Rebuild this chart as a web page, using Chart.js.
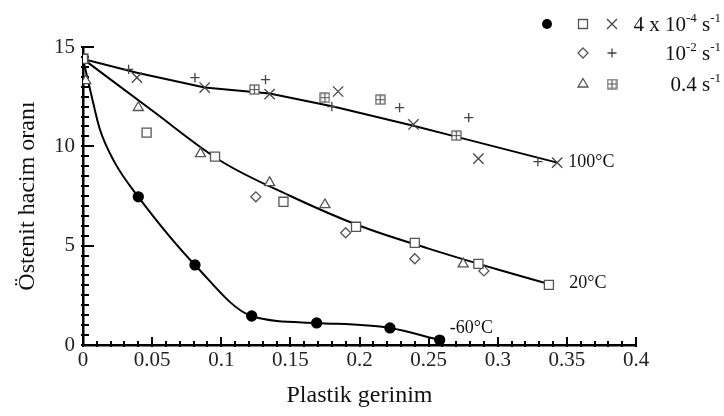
<!DOCTYPE html>
<html>
<head>
<meta charset="utf-8">
<script src="https://cdn.jsdelivr.net/npm/chart.js@4.4.1/dist/chart.umd.min.js"></script>
<style>
  html, body { margin: 0; background: #fff; }
  #wrap { width: 724px; height: 416px; }
</style>
</head>
<body>
<div id="wrap"><canvas id="chart" width="724" height="416"></canvas></div>
<script>
// ==== Data ====
const xTickValues = [0, 0.05, 0.1, 0.15, 0.2, 0.25, 0.3, 0.35, 0.4];
const yTickValues = [0, 5, 10, 15];
const tempLabels = ['100°C', '20°C', '-60°C'];
const rateLabels = ['4 x 10^-4 s^-1', '10^-2 s^-1', '0.4 s^-1'];

// -60°C, 4x10^-4 s^-1
const m60X = [0.040, 0.081, 0.122, 0.169, 0.222, 0.258];
const m60Y = [7.46, 4.03, 1.46, 1.11, 0.86, 0.25];

// 20°C
const t20SlowX = [0, 0.046, 0.0955, 0.145, 0.1975, 0.240, 0.286, 0.337];
const t20SlowY = [14.4, 10.69, 9.48, 7.21, 5.95, 5.14, 4.08, 3.03];
const t20MidX = [0.125, 0.19, 0.240, 0.290];
const t20MidY = [7.46, 5.65, 4.34, 3.73];
const t20FastX = [0.002, 0.040, 0.085, 0.135, 0.175, 0.275];
const t20FastY = [13.3, 11.95, 9.63, 8.17, 7.06, 4.08];

// 100°C
const t100SlowX = [0.039, 0.088, 0.135, 0.1845, 0.239, 0.286, 0.343];
const t100SlowY = [13.46, 12.96, 12.63, 12.76, 11.1, 9.38, 9.18];
const t100MidX = [0.033, 0.081, 0.132, 0.180, 0.229, 0.279, 0.329];
const t100MidY = [13.87, 13.46, 13.36, 12.0, 11.95, 11.45, 9.23];
const t100FastX = [0, 0.124, 0.175, 0.215, 0.270];
const t100FastY = [14.4, 12.86, 12.45, 12.35, 10.54];

// fitted curves
const fit100X = [0, 0.039, 0.088, 0.135, 0.181, 0.239, 0.269, 0.343];
const fit100Y = [14.4, 13.7, 12.96, 12.66, 12.0, 11.04, 10.5, 9.18];
const fit20X = [0, 0.05, 0.1, 0.15, 0.2, 0.25, 0.3, 0.338];
const fit20Y = [14.4, 11.8, 9.25, 7.5, 6.0, 4.85, 3.8, 3.05];
const fit60X = [0, 0.006, 0.012, 0.023, 0.040, 0.081, 0.122, 0.169, 0.222, 0.258];
const fit60Y = [14.4, 12.6, 10.9, 9.18, 7.46, 4.03, 1.46, 1.11, 0.86, 0.25];

// ==== Helpers ====
const SERIF = '"Liberation Serif", "Times New Roman", serif';
const GREY = '#555';
const toPts = (xs, ys) => xs.map((x, i) => ({ x, y: ys[i] }));

function boxPlus(size, color) {
  const c = document.createElement('canvas');
  c.width = size; c.height = size;
  const g = c.getContext('2d');
  g.fillStyle = '#fff';
  g.fillRect(1, 1, size - 2, size - 2);
  g.strokeStyle = color;
  g.lineWidth = 1.2;
  g.strokeRect(1, 1, size - 2, size - 2);
  g.beginPath();
  g.moveTo(size / 2, 1); g.lineTo(size / 2, size - 1);
  g.moveTo(1, size / 2); g.lineTo(size - 1, size / 2);
  g.stroke();
  return c;
}
const boxPlusImg = boxPlus(11, GREY);

function markers(xs, ys, style, radius, color, fill) {
  return {
    data: toPts(xs, ys),
    pointStyle: style,
    pointRadius: radius,
    pointBorderColor: color,
    pointBackgroundColor: fill,
    pointBorderWidth: 1.3,
    showLine: false
  };
}

function curve(xs, ys, smooth) {
  return {
    data: toPts(xs, ys),
    showLine: true,
    pointRadius: 0,
    borderColor: '#000',
    borderWidth: 2,
    cubicInterpolationMode: smooth ? 'monotone' : 'default',
    tension: 0
  };
}

// legend marker drawing (same look as the dataset markers)
function drawMarker(ctx, kind, cx, cy) {
  ctx.save();
  ctx.strokeStyle = GREY;
  ctx.lineWidth = 1.3;
  ctx.fillStyle = '#fff';
  ctx.beginPath();
  if (kind === 'circle') {
    ctx.fillStyle = '#000';
    ctx.arc(cx, cy, 5, 0, Math.PI * 2);
    ctx.fill();
  } else if (kind === 'rect') {
    ctx.rect(cx - 4.5, cy - 4.5, 9, 9);
    ctx.fill(); ctx.stroke();
  } else if (kind === 'rectRot') {
    ctx.moveTo(cx, cy - 5); ctx.lineTo(cx + 5, cy); ctx.lineTo(cx, cy + 5); ctx.lineTo(cx - 5, cy); ctx.closePath();
    ctx.fill(); ctx.stroke();
  } else if (kind === 'triangle') {
    ctx.moveTo(cx, cy - 5.5); ctx.lineTo(cx + 5, cy + 3); ctx.lineTo(cx - 5, cy + 3); ctx.closePath();
    ctx.fill(); ctx.stroke();
  } else if (kind === 'cross') {
    ctx.strokeStyle = '#444';
    ctx.moveTo(cx - 4.5, cy); ctx.lineTo(cx + 4.5, cy);
    ctx.moveTo(cx, cy - 4.5); ctx.lineTo(cx, cy + 4.5);
    ctx.stroke();
  } else if (kind === 'crossRot') {
    ctx.strokeStyle = '#444';
    ctx.moveTo(cx - 5, cy - 5); ctx.lineTo(cx + 5, cy + 5);
    ctx.moveTo(cx + 5, cy - 5); ctx.lineTo(cx - 5, cy + 5);
    ctx.stroke();
  } else if (kind === 'boxPlus') {
    ctx.drawImage(boxPlusImg, cx - 5.5, cy - 5.5);
  }
  ctx.restore();
}

// text with ^superscripts, right-aligned at xr
function drawSupText(ctx, text, xr, yb, size) {
  const parts = [];
  text.split(' ').forEach((word, wi) => {
    const bits = word.split('^');
    parts.push({ t: (wi ? ' ' : '') + bits[0], sup: false });
    if (bits[1]) parts.push({ t: bits[1], sup: true });
  });
  const big = size + 'px ' + SERIF, small = Math.round(size * 0.62) + 'px ' + SERIF;
  let total = 0;
  parts.forEach(p => { ctx.font = p.sup ? small : big; p.w = ctx.measureText(p.t).width; total += p.w; });
  let x = xr - total;
  parts.forEach(p => {
    ctx.font = p.sup ? small : big;
    ctx.fillText(p.t, x, p.sup ? yb - size * 0.42 : yb);
    x += p.w;
  });
}

// ==== Plugins ====
const innerTicks = {
  id: 'innerTicks',
  beforeDatasetsDraw(chart) {
    const { ctx, chartArea, scales: { x, y } } = chart;
    ctx.save();
    ctx.strokeStyle = '#000';
    ctx.lineWidth = 2;
    ctx.beginPath();
    for (let i = 0; i <= 30; i++) {
      const py = Math.round(y.getPixelForValue(i * 0.5));
      const len = i % 10 === 0 ? 11 : 6;
      ctx.moveTo(chartArea.left - 2, py);
      ctx.lineTo(chartArea.left + len, py);
    }
    for (let i = 0; i <= 40; i++) {
      const px = Math.round(x.getPixelForValue(i * 0.01));
      const len = i % 5 === 0 ? 8 : 4;
      ctx.moveTo(px, chartArea.bottom + 2);
      ctx.lineTo(px, chartArea.bottom - len);
    }
    ctx.stroke();
    ctx.restore();
  }
};

const annotate = {
  id: 'annotate',
  afterDraw(chart) {
    const { ctx, scales: { x, y } } = chart;
    ctx.save();
    ctx.fillStyle = '#111';
    ctx.textBaseline = 'middle';
    ctx.font = '18px ' + SERIF;
    const ends = [
      [fit100X, fit100Y, 11, 0],
      [fit20X, fit20Y, 19, -1],
      [fit60X, fit60Y, 10, -12]
    ];
    ends.forEach(([xs, ys, dx, dy], i) => {
      const n = xs.length - 1;
      ctx.fillText(tempLabels[i], x.getPixelForValue(xs[n]) + dx, y.getPixelForValue(ys[n]) + dy);
    });

    // legend
    ctx.textBaseline = 'alphabetic';
    const rowY = [24, 53, 84];
    const rows = [['circle', 'rect', 'crossRot'], [null, 'rectRot', 'cross'], [null, 'triangle', 'boxPlus']];
    const colX = [547, 583, 612];
    rows.forEach((row, r) => {
      row.forEach((k, c) => { if (k) drawMarker(ctx, k, colX[c], rowY[r]); });
      drawSupText(ctx, rateLabels[r], 721, rowY[r] + 7, 21);
    });
    ctx.restore();
  }
};

// ==== Chart ====
const fmt = v => String(+Number(v).toFixed(2));

new Chart(document.getElementById('chart'), {
  type: 'scatter',
  data: {
    datasets: [
      markers(m60X, m60Y, 'circle', 5, '#000', '#000'),
      markers(t20SlowX, t20SlowY, 'rect', 6.4, GREY, '#fff'),
      markers(t20MidX, t20MidY, 'rectRot', 5, GREY, '#fff'),
      markers(t20FastX, t20FastY, 'triangle', 5.8, GREY, '#fff'),
      markers(t100SlowX, t100SlowY, 'crossRot', 7.3, '#444', '#444'),
      markers(t100MidX, t100MidY, 'cross', 4.6, '#444', '#444'),
      markers(t100FastX, t100FastY, boxPlusImg, 6, GREY, '#fff'),
      curve(fit100X, fit100Y, false),
      curve(fit20X, fit20Y, true),
      curve(fit60X, fit60Y, true)
    ]
  },
  options: {
    responsive: false,
    animation: false,
    devicePixelRatio: 1,
    events: [],
    layout: { padding: { left: 0, right: 88, top: 47, bottom: 0 } },
    plugins: { legend: { display: false }, tooltip: { enabled: false } },
    scales: {
      x: {
        type: 'linear',
        min: 0,
        max: 0.4,
        afterBuildTicks: s => { s.ticks = xTickValues.map(v => ({ value: v })); },
        afterFit: s => { s.height = 71; },
        grid: { display: false, drawTicks: false },
        border: { display: true, color: '#000', width: 2.5 },
        ticks: { padding: 3, color: '#222', font: { family: SERIF, size: 21 }, callback: fmt, maxRotation: 0 },
        title: { display: true, text: 'Plastik gerinim', color: '#111', font: { family: SERIF, size: 24 }, padding: { top: 0, bottom: 6 } }
      },
      y: {
        type: 'linear',
        min: 0,
        max: 15,
        afterBuildTicks: s => { s.ticks = yTickValues.map(v => ({ value: v })); },
        afterFit: s => { s.width = 83; },
        grid: { display: false, drawTicks: false },
        border: { display: true, color: '#000', width: 2.5 },
        ticks: { padding: 8, color: '#222', font: { family: SERIF, size: 21 }, callback: fmt },
        title: { display: true, text: 'Östenit hacim oranı', color: '#111', font: { family: SERIF, size: 24 }, padding: { top: 13, bottom: 0 } }
      }
    }
  },
  plugins: [innerTicks, annotate]
});
</script>
</body>
</html>
